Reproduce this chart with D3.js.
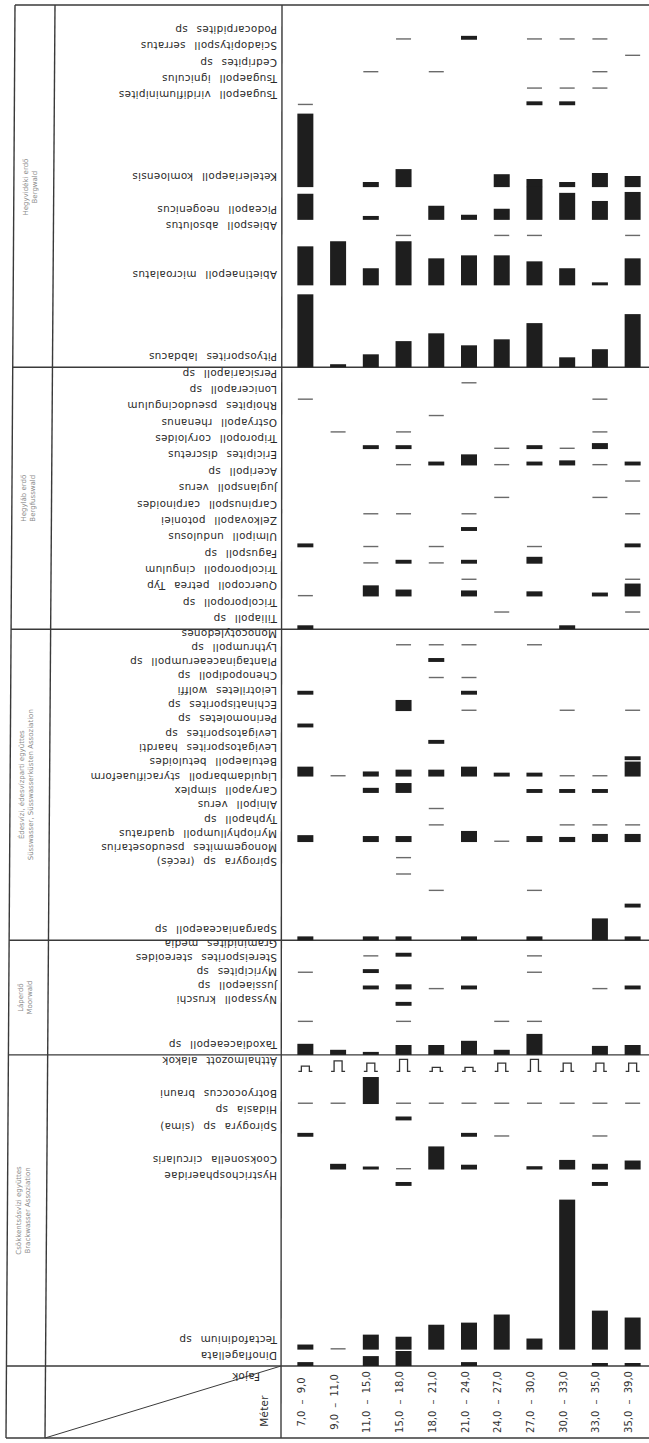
<!DOCTYPE html>
<html>
<head>
<meta charset="utf-8">
<script src="https://cdn.jsdelivr.net/npm/d3@7"></script>
<style>
body { margin: 0; background: #fff; }
svg text { font-family: "DejaVu Sans", sans-serif; }
.taxon { font-size: 10.4px; fill: #2a2a2a; word-spacing: 5px; letter-spacing: 0.3px; }
.group { font-size: 7px; fill: #8a8a8a; }
.depth { font-size: 10px; fill: #333; word-spacing: 3px; }
</style>
</head>
<body>
<svg id="chart" width="649" height="1443"></svg>
<script>
// minták (méter)
var depths = ["7,0 – 9,0", "9,0 – 11,0", "11,0 – 15,0", "15,0 – 18,0", "18,0 – 21,0", "21,0 – 24,0",
              "24,0 – 27,0", "27,0 – 30,0", "30,0 – 33,0", "33,0 – 35,0", "35,0 – 39,0"];

var groups = [["Hegyvidéki erdő", "Bergwald"],
              ["Hegyláb erdő", "Bergfusswald"],
              ["Édesvízi, édesvízparti együttes", "Süsswasser, Süsswasserküsten Assoziation"],
              ["Láperdő", "Moorwald"],
              ["Csökkentsósvízi együttes", "Brackwasser Assoziation"]];

// 0.5 = ritka (vékony vonal), a többi relatív gyakoriság
var taxaBergwald = ["Podocarpidites sp", "Sciadopityspoll serratus", "Cedripites sp", "Tsugaepoll igniculus",
                    "Tsugaepoll viridifluminipites", "Keteleriaepoll komloensis", "Piceapoll neogenicus",
                    "Abiespoll absolutus", "Abietinaepoll microalatus", "Pityosporites labdacus"];
var spanBergwald = [2, 1, 1, 1, 1, 5, 2, 1, 3, 5];
var valBergwald = [
  [0, 0, 0, .5, 0, 1.3, 0, .5, .5, .5, 0],
  [0, 0, 0, 0, 0, 0, 0, 0, 0, 0, .5],
  [0, 0, .5, 0, .5, 0, 0, 0, 0, .5, 0],
  [0, 0, 0, 0, 0, 0, 0, .5, .5, .5, 0],
  [.5, 0, 0, 0, 0, 0, 0, 1.3, 1.3, 0, 0],
  [24.5, 0, 1.7, 6, 0, 0, 4.3, 2.7, 1.7, 4.7, 3.7],
  [8.7, 0, 1.3, 0, 4.7, 1.7, 3.7, 11, 9, 6.3, 9.3],
  [0, 0, 0, .5, 0, 0, .5, .5, 0, 0, .5],
  [13, 14.7, 5.7, 14.7, 9, 10, 10, 8, 5.7, 1, 9],
  [24.3, 1, 4.3, 8.7, 11.3, 7.3, 9.3, 14.7, 3.3, 6, 17.7]
];

var taxaBergfuss = ["Persicariapoll sp", "Lonicerapoll sp", "Rhoipites pseudocingulum", "Ostryapoll rhenanus",
                    "Triporopoll coryloides", "Ericipites discretus", "Aceripoll sp", "Juglanspoll verus",
                    "Carpinuspoll carpinoides", "Zelkovapoll potoniei", "Ulmipoll undulosus", "Faguspoll sp",
                    "Tricolporopoll cingulum", "Quercopoll petrea Typ", "Tricolporopoll sp", "Tiliapoll sp"];
var spanBergfuss = [1, 1, 1, 1, 1, 1, 1, 1, 1, 1, 1, 1, 1, 1, 1, 1];
var valBergfuss = [
  [0, 0, 0, 0, 0, .5, 0, 0, 0, 0, 0],
  [.5, 0, 0, 0, 0, 0, 0, 0, 0, .5, 0],
  [0, 0, 0, 0, .5, 0, 0, 0, 0, 0, 0],
  [0, .5, 0, .5, 0, 0, 0, 0, 0, .5, 0],
  [0, 0, 1.3, 1.3, 0, 0, .5, 1.3, .5, 2, 0],
  [0, 0, 0, .5, 1.3, 3.7, .5, 1.3, 1.7, .5, 1.3],
  [0, 0, 0, 0, 0, 0, 0, 0, 0, 0, .5],
  [0, 0, 0, 0, 0, 0, .5, 0, 0, .5, 0],
  [0, 0, .5, .5, 0, .5, 0, 0, 0, 0, .5],
  [0, 0, 0, 0, 0, 1.3, 0, 0, 0, 0, 0],
  [1.3, 0, .5, 0, .5, 0, 0, .5, 0, 0, 1.3],
  [0, 0, .5, 1.3, .5, 1.3, 0, 2.3, 0, 0, 0],
  [0, 0, 0, 0, 0, .5, 0, 0, 0, 0, .5],
  [.5, 0, 3.7, 2.3, 0, 2, 0, 1.7, 0, 1.3, 4.3],
  [0, 0, 0, 0, 0, 0, .5, 0, 0, 0, .5],
  [1.3, 0, 0, 0, 0, 0, 0, 0, 1.3, 0, 0]
];

var taxaSuss = ["Monocotyledones", "Lythrumpoll sp", "Plantaginaceaerumpoll sp", "Chenopodipoll sp",
                "Leiotriletes wolffi", "Echinatisporites sp", "Perinomoletes sp", "Levigatosporites sp",
                "Levigatosporites haardti", "Betulaepoll betuloides", "Liquidambarpoll styracifluaeform",
                "Caryapoll simplex", "Alnipoll verus", "Typhapoll sp", "Myriophyllumpoll quadratus",
                "Monogemmites pseudosetarius", "Spirogyra sp (recés)", "Sparganiaceaepoll sp"];
var spanSuss = [1, 1, 1, 1, 1, 1, 1, 1, 1, 1, 1, 1, 1, 1, 1, 1, 1, 2];
var valSuss = [
  [0, 0, 0, .5, .5, .5, 0, .5, 0, 0, 0],
  [0, 0, 0, 0, 1.3, 0, 0, 0, 0, 0, 0],
  [0, 0, 0, 0, .5, .5, 0, 0, 0, 0, 0],
  [1.3, 0, 0, 0, 0, 1.3, 0, 0, 0, 0, 0],
  [0, 0, 0, 3.7, 0, .5, 0, 0, .5, 0, .5],
  [1.3, 0, 0, 0, 0, 0, 0, 0, 0, 0, 0],
  [0, 0, 0, 0, 1.3, 0, 0, 0, 0, 0, 0],
  [0, 0, 0, 0, 0, 0, 0, 0, 0, 0, 1.3],
  [3.3, .5, 1.7, 2.3, 2.3, 3.3, 1.3, 1.3, .5, .5, 5],
  [0, 0, 1.7, 3.3, 0, 0, 0, 1.3, 1.3, 1.3, 0],
  [0, 0, 0, 0, .5, 0, 0, 0, 0, 0, 0],
  [0, 0, 0, 0, .5, 0, 0, 0, .5, .5, .5],
  [2.3, 0, 2, 2, 0, 3.7, .5, 2, 1.7, 2.7, 2.7],
  [0, 0, 0, .5, 0, 0, 0, 0, 0, 0, 0],
  [0, 0, 0, .5, 0, 0, 0, 0, 0, 0, 0],
  [0, 0, 0, 0, .5, 0, 0, .5, 0, 0, 0],
  [0, 0, 0, 0, 0, 0, 0, 0, 0, 0, 1.3],
  [1.3, 0, 1.3, 1.3, 0, 1.3, 0, 1.3, 0, 7.3, 1.3]
];

var taxaMoor = ["Graminidites media", "Stereisporites stereoides", "Myricipites sp", "Jussiaepoll sp",
                "Nyssapoll kruschi", "Taxodiaceaepoll sp"];
var spanMoor = [1, 1, 1, 1, 1, 2];
var valMoor = [
  [0, 0, .5, 1.3, 0, 0, 0, .5, 0, 0, 0],
  [.5, 0, 1.3, 0, 0, 0, 0, .5, 0, 0, 0],
  [0, 0, 1.3, 1.7, .5, 1.3, 0, 0, 0, .5, 1.3],
  [0, 0, 0, 1.3, 0, 0, 0, 0, 0, 0, 0],
  [.5, 0, 0, .5, 0, 0, .5, .5, 0, 0, 0],
  [3.7, 1.7, 1, 3.3, 3.3, 4.7, 1.7, 7, 0, 3, 3.3]
];

var reworkedName = "Átthalmozott alakok";
var taxaBrack = [reworkedName, "Botryococcus brauni", "Hidasia sp", "Spirogyra sp (sima)",
                 "Cooksonella circularis", "Hystrichosphaeridae", "Tectafodinium sp", "Dinoflagellata"];
var spanBrack = [1, 2, 1, 1, 2, 1, 10, 1];
var valBrack = [
  [1.7, 3.5, 2.7, 4, 1.3, 1.3, 2.7, 4, 2.7, 2.7, 2.7],
  [.5, .5, 9, .5, .5, .5, .5, .5, .5, .5, .5],
  [0, 0, 0, 1.3, 0, 0, 0, 0, 0, 0, 0],
  [1.3, 0, 0, 0, 0, 1.3, .5, 0, 0, .5, 0],
  [0, 1.9, 1, .5, 7.7, 1.6, 0, 1.1, 3.2, 1.9, 3],
  [0, 0, 0, 1.3, 0, 0, 0, 0, 0, 1.3, 0],
  [1.7, .5, 5, 4.3, 8.3, 9, 11.7, 3.7, 50, 13, 10.7],
  [1.3, 0, 3.3, 5, 0, 1.3, 0, 0, 0, 1, 1]
];

// a feliratok sűrűsége szakaszonként (az eredeti rajzon nem pontosan a sorok mellett állnak)
var sections = [
  { group: groups[0], taxa: taxaBergwald, span: spanBergwald, values: valBergwald, squeeze: 1 },
  { group: groups[1], taxa: taxaBergfuss, span: spanBergfuss, values: valBergfuss, squeeze: 1 },
  { group: groups[2], taxa: taxaSuss, span: spanSuss, values: valSuss, squeeze: 0.874 },
  { group: groups[3], taxa: taxaMoor, span: spanMoor, values: valMoor, squeeze: 0.85 },
  { group: groups[4], taxa: taxaBrack, span: spanBrack, values: valBrack, squeeze: 1 }
];

// sorok
var rows = [];
var unit = 0;
sections.forEach(function(s) {
    s.start = unit;
    s.taxa.forEach(function(t, i) {
        unit += s.span[i];
        rows.push({ name: t, base: unit, values: s.values[i], section: s, span: s.span[i] });
    });
    s.end = unit;
});

var svg = d3.select("#chart");
var dataLeft = 289, labelRight = 281, topY = 5, headTop = 1366, bottomY = 1438;

var x = d3.scaleBand().domain(depths).range([dataLeft, 649]);
var y = d3.scaleLinear().domain([0, unit]).range([7, headTop]);
var h = d3.scaleLinear().domain([0, 50]).range([0, 150]);
function cx(i) { return x(depths[i]) + x.bandwidth() / 2; }
function leftEdge(yy) { return 15 - 9 * (yy - topY) / (bottomY - topY); }
function labelY(d) {
    var s = d.section;
    if (d.span > 1 && d.section.squeeze < 1) return y(d.base) - 10;
    return y(s.start) + s.squeeze * (y(d.base) - y(s.start)) - 10;
}

// keret
var frame = svg.append("g")
    .attr("stroke", "#3a3a3a")
    .attr("stroke-width", 1.4)
    .attr("fill", "none");

frame.append("line").attr("x1", 15).attr("y1", topY).attr("x2", 649).attr("y2", topY);
frame.append("line").attr("x1", 6).attr("y1", bottomY).attr("x2", 649).attr("y2", bottomY);
frame.append("line").attr("x1", 15).attr("y1", topY).attr("x2", 6).attr("y2", bottomY);
frame.append("line").attr("x1", 55).attr("y1", topY).attr("x2", 45).attr("y2", bottomY);
frame.append("line").attr("x1", labelRight + 1).attr("y1", topY).attr("x2", labelRight).attr("y2", bottomY);

sections.forEach(function(s) {
    var yy = y(s.end);
    frame.append("line")
        .attr("x1", leftEdge(yy)).attr("y1", yy)
        .attr("x2", 649).attr("y2", yy);
});

frame.append("line")
    .attr("x1", labelRight).attr("y1", headTop)
    .attr("x2", 45).attr("y2", bottomY)
    .attr("stroke-width", 1);

// csoport feliratok
sections.forEach(function(s) {
    var yc = (y(s.start) + y(s.end)) / 2;
    var gx = leftEdge(yc);
    s.group.forEach(function(line, k) {
        var tx = gx + 12 + k * 9;
        svg.append("text")
            .attr("class", "group")
            .attr("x", tx)
            .attr("y", yc)
            .attr("text-anchor", "middle")
            .attr("dominant-baseline", "central")
            .attr("transform", "rotate(-90," + tx + "," + yc + ")")
            .text(line);
    });
});

// fajnevek (fejjel lefelé)
svg.append("g")
    .selectAll("text")
    .data(rows)
    .enter()
    .append("text")
    .attr("class", "taxon")
    .attr("x", labelRight - 4)
    .attr("y", labelY)
    .attr("dominant-baseline", "central")
    .attr("transform", function(d) { return "rotate(180," + (labelRight - 4) + "," + labelY(d) + ")"; })
    .text(function(d) { return d.name; });

// jelek
var marks = svg.append("g");
rows.forEach(function(r) {
    var base = y(r.base);
    r.values.forEach(function(v, i) {
        if (v <= 0) return;
        var c = cx(i);
        if (r.name == reworkedName) {
            var t = base - h(v);
            marks.append("path")
                .attr("d", "M" + (c - 7) + "," + base + "H" + (c - 4) + "V" + t + "H" + (c + 4) + "V" + base + "H" + (c + 7))
                .attr("fill", "none")
                .attr("stroke", "#333")
                .attr("stroke-width", 1.3);
        } else if (v < 1) {
            marks.append("line")
                .attr("x1", c - 7.5).attr("x2", c + 7.5)
                .attr("y1", base - 0.8).attr("y2", base - 0.8)
                .attr("stroke", "#6a6a6a")
                .attr("stroke-width", 1.4);
        } else {
            marks.append("rect")
                .attr("x", c - 8)
                .attr("width", 16)
                .attr("y", base - h(v))
                .attr("height", h(v))
                .attr("fill", "#1e1e1e");
        }
    });
});

// fejléc
svg.append("text")
    .attr("class", "taxon")
    .attr("x", 260).attr("y", 1377)
    .attr("dominant-baseline", "central")
    .attr("transform", "rotate(180,260,1377)")
    .text("Fajok");

svg.append("text")
    .attr("class", "taxon")
    .attr("x", 264).attr("y", 1411)
    .attr("text-anchor", "middle")
    .attr("dominant-baseline", "central")
    .attr("transform", "rotate(-90,264,1411)")
    .text("Méter");

svg.append("g")
    .selectAll("text")
    .data(depths)
    .enter()
    .append("text")
    .attr("class", "depth")
    .attr("x", function(d, i) { return cx(i) - 4; })
    .attr("y", 1402)
    .attr("text-anchor", "middle")
    .attr("dominant-baseline", "central")
    .attr("transform", function(d, i) { return "rotate(-90," + (cx(i) - 4) + ",1402)"; })
    .text(function(d) { return d; });
</script>
</body>
</html>
